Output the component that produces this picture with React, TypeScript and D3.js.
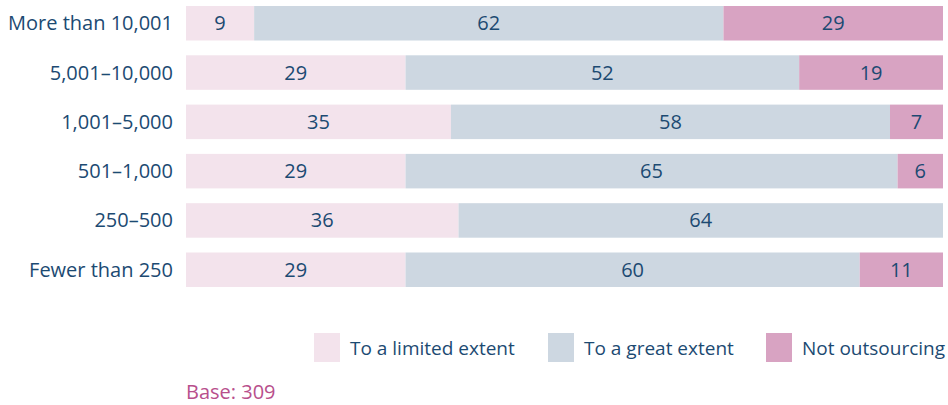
import React from "react";
import * as d3 from "d3";

const categories = ["More than 10,001", "5,001–10,000", "1,001–5,000", "501–1,000", "250–500", "Fewer than 250"];
const seriesNames = ["To a limited extent", "To a great extent", "Not outsourcing"];
const limited = [9, 29, 35, 29, 36, 29];
const great = [62, 52, 58, 65, 64, 60];
const notOut = [29, 19, 7, 6, 0, 11];
const colors = ["#f3e3ec", "#cdd7e1", "#d8a3c2"];
const textColor = "#1c4a72";
const font = "'Open Sans', 'Noto Sans', sans-serif";

export default function App() {
  const W = 948, H = 405;
  const x = d3.scaleLinear().domain([0, 100]).range([186, 943]);
  const y = d3.scaleBand().domain(categories).range([6, 287]).paddingInner(0.3).paddingOuter(0);
  const rows = categories.map((c, i) => ({ c, vals: [limited[i], great[i], notOut[i]] }));
  const legendX = [314, 548, 766];
  return (
    <svg width={W} height={H} style={{ position: "absolute", left: 0, top: 0 }} fontFamily={font}>
      {rows.map((r) => {
        let acc = 0;
        return (
          <g key={r.c}>
            <text x={173} y={y(r.c)! + y.bandwidth() / 2} dy="0.35em" textAnchor="end" fontSize={20} fill={textColor}>{r.c}</text>
            {r.vals.map((v, j) => {
              const x0 = x(acc);
              acc += v;
              const x1 = x(acc);
              if (v === 0) return null;
              return (
                <g key={j}>
                  <rect x={x0} y={y(r.c)} width={x1 - x0} height={y.bandwidth()} fill={colors[j]} />
                  <text x={(x0 + x1) / 2} y={y(r.c)! + y.bandwidth() / 2} dy="0.35em" textAnchor="middle" fontSize={20} fill={textColor}>{v}</text>
                </g>
              );
            })}
          </g>
        );
      })}
      {seriesNames.map((s, i) => (
        <g key={s}>
          <rect x={legendX[i]} y={333} width={26} height={29} fill={colors[i]} />
          <text x={legendX[i] + 36} y={348} dy="0.35em" fontSize={19} fill={textColor}>{s}</text>
        </g>
      ))}
      <text x={186} y={392} dy="0.35em" fontSize={20} fill="#b84f8c">Base: 309</text>
    </svg>
  );
}
